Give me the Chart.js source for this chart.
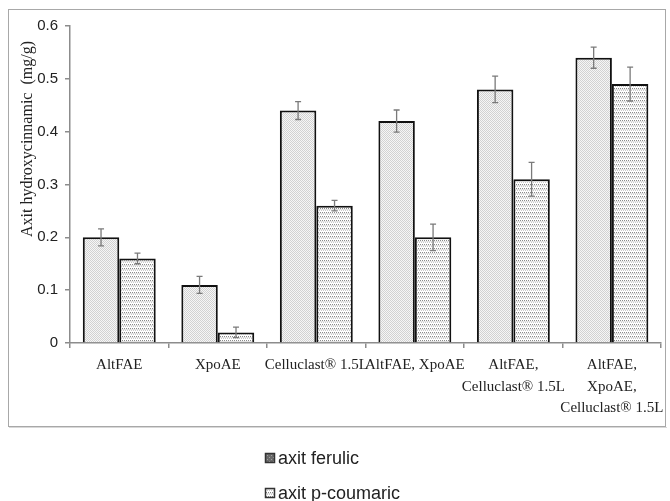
<!DOCTYPE html>
<html>
<head>
<meta charset="utf-8">
<script src="https://cdn.jsdelivr.net/npm/chart.js@4.4.1/dist/chart.umd.min.js"></script>
<style>
  html, body { margin: 0; padding: 0; background: #fff; }
  #wrap { width: 670px; height: 501px; position: relative; }
</style>
</head>
<body>
<div id="wrap"><canvas id="myBarChart" width="670" height="501"></canvas></div>
<script>
// categories (x axis), multi-line labels as arrays
const categories = [
  'AltFAE',
  'XpoAE',
  'Celluclast® 1.5L',
  'AltFAE, XpoAE',
  ['AltFAE,', 'Celluclast® 1.5L'],
  ['AltFAE,', 'XpoAE,', 'Celluclast® 1.5L']
];
const seriesNames = ['axit ferulic', 'axit p-coumaric'];
const ferulicValues = [0.20, 0.11, 0.44, 0.42, 0.48, 0.54];
const ferulicErrors = [0.016, 0.016, 0.017, 0.021, 0.025, 0.02];
const coumaricValues = [0.16, 0.02, 0.26, 0.20, 0.31, 0.49];
const coumaricErrors = [0.01, 0.01, 0.01, 0.025, 0.032, 0.032];
const yTicks = [0, 0.1, 0.2, 0.3, 0.4, 0.5, 0.6];
const yTitle = 'Axit hydroxycinnamic  (mg/g)';

// small tiles used as fill patterns
function makePattern(kind) {
  const c = document.createElement('canvas');
  c.width = 4; c.height = 4;
  const p = c.getContext('2d');
  p.fillStyle = '#f6f6f6';
  p.fillRect(0, 0, 4, 4);
  if (kind === 'ferulic') {
    p.fillStyle = '#d2d2d2';
    p.fillRect(0, 0, 1, 1); p.fillRect(2, 0, 1, 1);
    p.fillRect(1, 1, 1, 1); p.fillRect(3, 1, 1, 1);
    p.fillRect(0, 2, 1, 1); p.fillRect(2, 2, 1, 1);
    p.fillRect(1, 3, 1, 1); p.fillRect(3, 3, 1, 1);
  } else if (kind === 'ferulicKey') {
    p.fillStyle = '#6a6a6a';
    p.fillRect(0, 0, 4, 4);
    p.fillStyle = '#a0a0a0';
    p.fillRect(1, 1, 1, 1); p.fillRect(3, 3, 1, 1);
  } else {
    p.fillStyle = '#ffffff';
    p.fillRect(0, 0, 4, 4);
    p.fillStyle = '#8a8a8a';
    p.fillRect(0, 0, 1, 1); p.fillRect(2, 0, 1, 1);
    p.fillStyle = '#c8c8c8';
    p.fillRect(1, 2, 1, 1); p.fillRect(3, 2, 1, 1);
    p.fillStyle = '#e2e2e2';
    p.fillRect(0, 1, 4, 1);
  }
  return document.getElementById('myBarChart').getContext('2d').createPattern(c, 'repeat');
}

const ferulicFill = makePattern('ferulic');
const coumaricFill = makePattern('coumaric');
const legendFills = [makePattern('ferulicKey'), coumaricFill];
const errorsByDataset = [ferulicErrors, coumaricErrors];

// error bars drawn from the y scale
const errorBars = {
  id: 'errorBars',
  afterDatasetsDraw(chart) {
    const ctx = chart.ctx;
    const y = chart.scales.y;
    ctx.save();
    ctx.strokeStyle = '#7a7a7a';
    ctx.lineWidth = 1.3;
    chart.data.datasets.forEach((ds, di) => {
      const meta = chart.getDatasetMeta(di);
      meta.data.forEach((bar, i) => {
        const v = ds.data[i];
        const e = errorsByDataset[di][i];
        const top = y.getPixelForValue(v + e);
        const bot = y.getPixelForValue(v - e);
        ctx.beginPath();
        ctx.moveTo(bar.x, top); ctx.lineTo(bar.x, bot);
        ctx.moveTo(bar.x - 3, top); ctx.lineTo(bar.x + 3, top);
        ctx.moveTo(bar.x - 3, bot); ctx.lineTo(bar.x + 3, bot);
        ctx.stroke();
      });
    });
    ctx.restore();
  }
};

// frame, rotated y title and the stacked legend under the frame
const decorations = {
  id: 'decorations',
  afterDraw(chart) {
    const ctx = chart.ctx;
    const area = chart.chartArea;
    ctx.save();
    ctx.strokeStyle = '#a8a8a8';
    ctx.lineWidth = 1;
    ctx.strokeRect(8.5, 9.5, 657, 417);
    ctx.strokeStyle = '#d8d8d8';
    ctx.beginPath();
    ctx.moveTo(9, 427.5); ctx.lineTo(667, 427.5);
    ctx.stroke();

    ctx.fillStyle = '#222';
    ctx.font = '16px "Liberation Serif", "Times New Roman", serif';
    ctx.textAlign = 'center';
    ctx.textBaseline = 'middle';
    ctx.translate(28, area.top + 113);
    ctx.rotate(-Math.PI / 2);
    ctx.fillText(yTitle, 0, 0);
    ctx.restore();

    ctx.save();
    ctx.font = '18px "Liberation Sans", Arial, sans-serif';
    ctx.textBaseline = 'middle';
    ctx.textAlign = 'left';
    chart.data.datasets.forEach((ds, i) => {
      const cy = 458 + i * 35;
      ctx.fillStyle = legendFills[i];
      ctx.fillRect(265, cy - 5, 10, 10);
      ctx.strokeStyle = '#333';
      ctx.lineWidth = 1.5;
      ctx.strokeRect(265.5, cy - 4.5, 9, 9);
      ctx.fillStyle = '#222';
      ctx.fillText(ds.label, 278, cy + 1);
    });
    ctx.restore();
  }
};

new Chart(document.getElementById('myBarChart').getContext('2d'), {
  type: 'bar',
  data: {
    labels: categories,
    datasets: [{
      label: seriesNames[0],
      data: ferulicValues,
      backgroundColor: ferulicFill,
      borderColor: '#111',
      borderWidth: 2
    }, {
      label: seriesNames[1],
      data: coumaricValues,
      backgroundColor: coumaricFill,
      borderColor: '#111',
      borderWidth: 2
    }]
  },
  options: {
    responsive: false,
    maintainAspectRatio: false,
    animation: false,
    categoryPercentage: 0.74,
    barPercentage: 1.0,
    layout: { padding: { left: 8, right: 7, top: 26, bottom: 78 } },
    plugins: {
      legend: { display: false },
      tooltip: { enabled: false }
    },
    scales: {
      x: {
        afterFit: function (s) { s.height = 80; },
        border: { color: '#8c8c8c', width: 1.5 },
        grid: { display: true, drawOnChartArea: false, drawTicks: true, tickLength: 5, color: '#8c8c8c', lineWidth: 1.5, offset: true },
        ticks: {
          color: '#222',
          padding: 6,
          maxRotation: 0,
          autoSkip: false,
          font: { family: '"Liberation Serif", "Times New Roman", serif', size: 15, lineHeight: 1.45 }
        }
      },
      y: {
        min: yTicks[0],
        max: yTicks[yTicks.length - 1],
        afterFit: function (s) { s.width = 62; },
        afterBuildTicks: function (s) { s.ticks = yTicks.map(v => ({ value: v })); },
        border: { color: '#8c8c8c', width: 1.5 },
        grid: { display: true, drawOnChartArea: false, drawTicks: true, tickLength: 5, color: '#8c8c8c', lineWidth: 1.5 },
        ticks: {
          color: '#222',
          padding: 7,
          font: { family: '"Liberation Sans", Arial, sans-serif', size: 15 },
          callback: function (v) { return v === 0 ? '0' : v.toFixed(1); }
        }
      }
    }
  },
  plugins: [errorBars, decorations]
});
</script>
</body>
</html>
